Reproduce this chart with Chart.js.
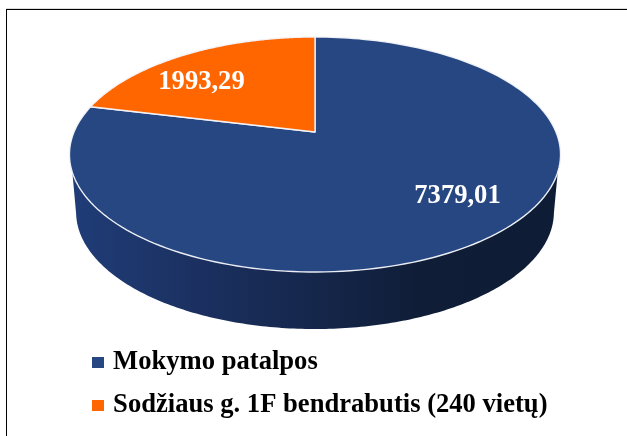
<!DOCTYPE html>
<html>
<head>
<meta charset="utf-8">
<style>
html,body{margin:0;padding:0;background:#fff;overflow:hidden}
#wrap{position:absolute;left:0;top:0;width:627px;height:436px}
#frame{position:absolute;left:6px;top:9px;right:0;bottom:0;border-left:1px solid #000;border-top:1px solid #000;box-shadow:0 -1px 0 #ddd;pointer-events:none}
</style>
</head>
<body>
<div id="wrap"><canvas id="c" width="627" height="436"></canvas><div id="frame"></div></div>
<script src="https://cdn.jsdelivr.net/npm/chart.js@4/dist/chart.umd.js"></script>
<script>
const categories = ["Mokymo patalpos", "Sodžiaus g. 1F bendrabutis (240 vietų)"];
const seriesValues = [7379.01, 1993.29];
const sliceColors = ["#274783", "#ff6600"];

const FONT = '"Liberation Serif", "Times New Roman", serif';
const view = {apexY:132, a:241, b:113.2, k:-0.1915, ellipseCY:154.5, depth:57.5, bottomSX:0.973, bottomSY:0.996, wallStartY:172};
const wallStops = [[70,"#203d78"],[200,"#1b3060"],[320,"#15264a"],[420,"#0f1d37"],[560,"#0e1c36"]];
const labelOffsets = [[142.5,64],[-113.5,-50]];

function project(cx, theta){
  const u = Math.cos(theta), v = Math.sin(theta), w = 1 + view.k*v;
  return [cx + view.a*u/w, view.apexY + view.b*v/w];
}
function bottomPoint(p, cx){
  return [cx + (p[0]-cx)*view.bottomSX, view.ellipseCY + view.depth + (p[1]-view.ellipseCY)*view.bottomSY];
}
function swatch(color){
  const c = document.createElement('canvas');
  c.width = 12; c.height = 11;
  const x = c.getContext('2d');
  x.fillStyle = color; x.fillRect(0,0,12,11);
  return c;
}

Chart.ArcElement.prototype.draw = function(ctx){
  const o = this.options, n = 180;
  ctx.save();
  ctx.beginPath();
  ctx.moveTo(this.x, view.apexY);
  for(let i=0;i<=n;i++){
    const t = this.startAngle + (this.endAngle-this.startAngle)*i/n;
    const p = project(this.x, t);
    ctx.lineTo(p[0], p[1]);
  }
  ctx.closePath();
  ctx.fillStyle = o.backgroundColor;
  ctx.fill();
  ctx.lineWidth = o.borderWidth;
  ctx.strokeStyle = o.borderColor;
  ctx.lineJoin = 'round';
  ctx.stroke();
  ctx.restore();
};

const pie3d = {
  id:'pie3d',
  beforeDatasetsDraw(chart){
    const ctx = chart.ctx, arcs = chart.getDatasetMeta(0).data;
    const g = ctx.createLinearGradient(wallStops[0][0],0,wallStops[wallStops.length-1][0],0);
    wallStops.forEach(s=>g.addColorStop((s[0]-wallStops[0][0])/(wallStops[wallStops.length-1][0]-wallStops[0][0]),s[1]));
    arcs.forEach(arc=>{
      const top=[], n=360;
      for(let i=0;i<=n;i++){
        const t = arc.startAngle + (arc.endAngle-arc.startAngle)*i/n;
        const p = project(arc.x,t);
        if(p[1]>view.wallStartY) top.push(p);
      }
      if(top.length<2) return;
      ctx.save();
      ctx.beginPath();
      top.forEach((p,i)=> i?ctx.lineTo(p[0],p[1]):ctx.moveTo(p[0],p[1]));
      for(let i=0;i<=n;i++){
        const t = arc.endAngle - (arc.endAngle-arc.startAngle)*i/n;
        const q = project(arc.x,t);
        if(q[1]>view.ellipseCY){
          const b = bottomPoint(q,arc.x);
          ctx.lineTo(b[0],b[1]);
        }
      }
      ctx.closePath();
      ctx.fillStyle = g;
      ctx.fill();
      ctx.restore();
    });
  },
  afterDatasetsDraw(chart){
    const ctx = chart.ctx, arcs = chart.getDatasetMeta(0).data;
    ctx.save();
    ctx.fillStyle = '#fff';
    ctx.font = 'bold 26.6px '+FONT;
    ctx.textAlign = 'center';
    ctx.textBaseline = 'middle';
    arcs.forEach((arc,i)=>{
      const txt = seriesValues[i].toFixed(2).replace('.',',');
      ctx.fillText(txt, arc.x+labelOffsets[i][0], view.apexY+labelOffsets[i][1]);
    });
    ctx.restore();
  }
};

new Chart(document.getElementById('c'),{
  type:'pie',
  data:{labels:categories,datasets:[{data:seriesValues,backgroundColor:sliceColors,borderColor:'rgba(244,246,250,0.95)',borderWidth:1.4,clip:false}]},
  plugins:[pie3d],
  options:{
    responsive:false,animation:false,
    layout:{padding:{left:80,right:77,top:14,bottom:7.5}},
    plugins:{
      tooltip:{enabled:false},
      legend:{
        position:'bottom',align:'start',
        labels:{
          usePointStyle:true,pointStyleWidth:3.4,boxHeight:11,padding:16.4,color:'#000',
          font:{family:FONT,size:26.6,weight:'bold'},
          generateLabels(chart){
            return Chart.overrides.pie.plugins.legend.labels.generateLabels(chart).map((it,i)=>Object.assign(it,{pointStyle:swatch(sliceColors[i])}));
          }
        }
      }
    }
  }
});
</script>
</body>
</html>
